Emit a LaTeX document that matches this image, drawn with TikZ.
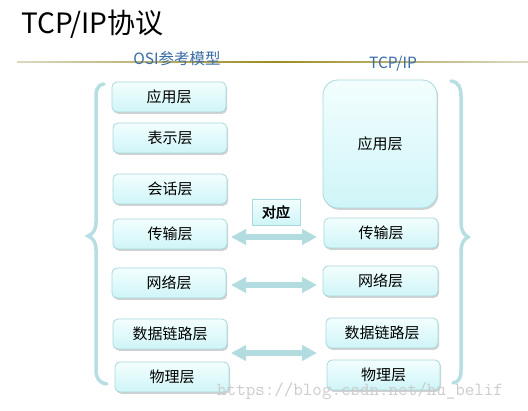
\documentclass[tikz,border=0pt]{standalone}
\usepackage{fontspec}
\setmainfont{Noto Sans CJK SC}
\newfontfamily\cjkbold{Noto Sans CJK SC}[FakeBold=2.5]
\usetikzlibrary{shadows,arrows.meta,calc}

\definecolor{boxline}{HTML}{A9D9DD}
\definecolor{boxtop}{HTML}{F3FEFE}
\definecolor{boxbot}{HTML}{CFF5F8}
\definecolor{bracec}{HTML}{B7DEE2}
\definecolor{arrowc}{HTML}{B3DCE0}
\definecolor{hblue}{HTML}{3A6DA6}
\definecolor{olived}{HTML}{9C8C22}
\definecolor{olivel}{HTML}{DCD9C4}

\tikzset{
  layer/.style={draw=boxline, line width=0.8pt, rounded corners=5pt,
    top color=boxtop, bottom color=boxbot,
    drop shadow={shadow xshift=1.2pt, shadow yshift=-1.8pt, fill=black!40, opacity=0.45},
    font=\fontsize{15}{15}\selectfont, inner sep=0pt,
    minimum width=114pt, minimum height=30pt},
  bigarrow/.style={draw=arrowc, line width=5.5pt,
    {Triangle[width=15pt,length=15pt]}-{Triangle[width=15pt,length=15pt]}},
  bracestyle/.style={draw=bracec, line width=3.5pt, line cap=round},
  heading/.style={text=hblue, font=\fontsize{15.5}{15.5}\selectfont, inner sep=0pt},
}

\begin{document}
\begin{tikzpicture}[x=1pt,y=-1pt]
\useasboundingbox[fill=white] (0,0) rectangle (528,411);

% title
\node[anchor=west, inner sep=0pt, font=\fontsize{28}{28}\selectfont] (title) at (21,24) {TCP/IP协议};

% header rule
\shade[left color=olivel, right color=olivel, middle color=olived] (17,61.5) rectangle (528,62.7);

\node[heading] (hosi) at (177,59) {OSI参考模型};
\node[heading] (htcp) at (393,64) {TCP/IP};

% braces
\draw[bracestyle] (104,84) .. controls (96,85) and (96,92) .. (96,100)
  -- (96,222) .. controls (96,230) and (93,234) .. (88,236)
  .. controls (93,238) and (96,242) .. (96,250)
  -- (96,370) .. controls (96,378) and (99,383) .. (107,384);
\draw[bracestyle] (451,81) .. controls (459,82) and (461,88) .. (461,96)
  -- (461,222) .. controls (461,230) and (463,234) .. (468,237)
  .. controls (463,240) and (461,244) .. (461,252)
  -- (461,370) .. controls (461,378) and (459,382) .. (453,383);

% OSI layers
\node[layer] (o1) at (169,97) {应用层};
\node[layer] (o2) at (170,138) {表示层};
\node[layer] (o3) at (170,189) {会话层};
\node[layer] (o4) at (170,234) {传输层};
\node[layer] (o5) at (169,283) {网络层};
\node[layer] (o6) at (170,334) {数据链路层};
\node[layer] (o7) at (172,377) {物理层};

% TCP/IP layers
\node[layer, rounded corners=15pt, minimum height=128pt] (t1) at (380,144) {应用层};
\node[layer] (t2) at (381,233) {传输层};
\node[layer, minimum width=115pt] (t3) at (380.5,281) {网络层};
\node[layer, minimum width=112pt] (t4) at (382,333) {数据链路层};
\node[layer, minimum width=113pt] (t5) at (383.5,375) {物理层};

% correspondence label
\node[draw=boxline, line width=0.6pt, top color=boxtop, bottom color=boxbot,
  minimum width=48pt, minimum height=26pt, inner sep=0pt,
  font=\cjkbold\fontsize{14}{14}\selectfont] (dy) at (276,212) {对应};

% arrows
\coordinate (a1l) at (231,237); \coordinate (a1r) at (317,237);
\coordinate (a2l) at (231,285); \coordinate (a2r) at (317,285);
\coordinate (a3l) at (231,353); \coordinate (a3r) at (317,353);
\draw[bigarrow] (a1l) -- (a1r);
\draw[bigarrow] (a2l) -- (a2r);
\draw[bigarrow] (a3l) -- (a3r);

% watermark
\node[anchor=base west, inner sep=0pt, text=black!20,
  font=\ttfamily\fontsize{18.5}{18.5}\selectfont] (wm) at (217,396) {https://blog.csdn.net/hu\_belif};
\end{tikzpicture}
\end{document}
